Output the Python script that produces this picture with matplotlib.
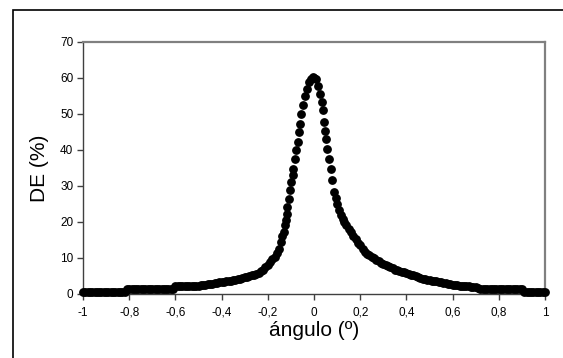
import matplotlib.pyplot as plt
from matplotlib.patches import Rectangle
from matplotlib.ticker import FuncFormatter

plt.rcParams['font.family'] = ['Liberation Sans', 'DejaVu Sans']

# ángulo (º) y eficiencia de difracción DE (%)
angulo = [
    -1.00, -0.99, -0.98, -0.97, -0.96, -0.95, -0.94, -0.93, -0.92, -0.91,
    -0.90, -0.89, -0.88, -0.87, -0.86, -0.85, -0.84, -0.83, -0.82,
    -0.81, -0.80, -0.79, -0.78, -0.77, -0.76, -0.75, -0.74, -0.73, -0.72,
    -0.71, -0.70, -0.69, -0.68, -0.67, -0.66, -0.65, -0.64, -0.63, -0.62, -0.61,
    -0.60, -0.59, -0.58, -0.57, -0.56, -0.55, -0.54, -0.53, -0.52, -0.51,
    -0.50, -0.49, -0.48, -0.47, -0.46, -0.45, -0.44, -0.43, -0.42, -0.41,
    -0.40, -0.39, -0.38, -0.37, -0.36, -0.35, -0.34, -0.33, -0.32, -0.31,
    -0.30, -0.29, -0.28, -0.27, -0.26, -0.25, -0.24, -0.23, -0.22, -0.21,
    -0.20, -0.19, -0.18, -0.17, -0.16, -0.15,
    -0.143, -0.137, -0.132, -0.127, -0.122, -0.118, -0.115, -0.108, -0.104,
    -0.099, -0.093, -0.090, -0.083, -0.080, -0.071, -0.064, -0.060, -0.055,
    -0.047, -0.040, -0.030, -0.020, -0.012, -0.006, 0.000,
    0.009, 0.019, 0.027, 0.033, 0.039, 0.044, 0.049, 0.053, 0.058, 0.064,
    0.072, 0.080, 0.088, 0.094, 0.100, 0.108, 0.116, 0.124, 0.132, 0.140,
    0.15, 0.16, 0.17, 0.18, 0.19, 0.20, 0.21, 0.22, 0.23, 0.24,
    0.25, 0.26, 0.27, 0.28, 0.29, 0.30, 0.31, 0.32, 0.33, 0.34,
    0.35, 0.36, 0.37, 0.38, 0.39, 0.40, 0.41, 0.42, 0.43, 0.44,
    0.45, 0.46, 0.47, 0.48, 0.49, 0.50, 0.51, 0.52, 0.53, 0.54,
    0.55, 0.56, 0.57, 0.58, 0.59, 0.60, 0.61, 0.62, 0.63, 0.64,
    0.65, 0.66, 0.67, 0.68, 0.69, 0.70, 0.71, 0.72, 0.73, 0.74,
    0.75, 0.76, 0.77, 0.78, 0.79, 0.80, 0.81, 0.82, 0.83, 0.84,
    0.85, 0.86, 0.87, 0.88, 0.89, 0.90, 0.91, 0.92, 0.93, 0.94,
    0.95, 0.96, 0.97, 0.98, 0.99, 1.00,
]

de = [
    0.6, 0.6, 0.6, 0.6, 0.6, 0.6, 0.6, 0.6, 0.6, 0.6,
    0.6, 0.6, 0.6, 0.6, 0.6, 0.6, 0.6, 0.6, 0.6,
    1.3, 1.3, 1.3, 1.3, 1.3, 1.3, 1.3, 1.3, 1.3, 1.3,
    1.3, 1.3, 1.3, 1.3, 1.3, 1.3, 1.3, 1.3, 1.3, 1.3, 1.3,
    2.2, 2.2, 2.2, 2.2, 2.2, 2.2, 2.2, 2.2, 2.2, 2.2,
    2.3, 2.4, 2.5, 2.6, 2.7, 2.8, 2.9, 3.0, 3.1, 3.2,
    3.3, 3.4, 3.5, 3.6, 3.7, 3.8, 4.0, 4.1, 4.3, 4.4,
    4.6, 4.8, 5.0, 5.2, 5.4, 5.6, 5.9, 6.3, 6.8, 7.4,
    8.0, 8.8, 9.6, 10.4, 11.3, 12.6,
    14.5, 16.0, 17.3, 19.1, 20.6, 22.1, 24.2, 26.5, 28.8,
    31.1, 33.0, 34.8, 37.6, 39.9, 42.2, 45.0, 47.3, 50.0,
    52.4, 55.1, 57.0, 58.8, 59.8, 60.2, 60.0,
    59.7, 57.7, 55.6, 53.3, 51.0, 47.7, 45.4, 43.1, 40.4, 37.6,
    34.8, 31.6, 28.3, 26.6, 25.1, 23.4, 21.9, 20.9, 20.0, 19.1,
    18.1, 17.1, 16.1, 15.2, 14.3, 13.5, 12.6, 11.8, 11.1, 10.7,
    10.3, 9.9, 9.5, 9.1, 8.7, 8.3, 8.0, 7.7, 7.4, 7.1,
    6.8, 6.6, 6.4, 6.2, 6.0, 5.8, 5.6, 5.4, 5.2, 4.9,
    4.7, 4.5, 4.3, 4.2, 4.0, 3.9, 3.7, 3.6, 3.5, 3.3,
    3.2, 3.1, 3.0, 2.8, 2.7, 2.6, 2.5, 2.4, 2.3, 2.2,
    2.2, 2.1, 2.1, 2.0, 2.0, 1.9, 1.8, 1.3, 1.3, 1.3,
    1.3, 1.3, 1.3, 1.3, 1.3, 1.3, 1.3, 1.3, 1.3, 1.3,
    1.3, 1.3, 1.3, 1.3, 1.3, 1.3, 0.6, 0.6, 0.6, 0.6,
    0.6, 0.6, 0.6, 0.6, 0.6, 0.6,
]

x_ticks = [-1, -0.8, -0.6, -0.4, -0.2, 0, 0.2, 0.4, 0.6, 0.8, 1]
y_ticks = [0, 10, 20, 30, 40, 50, 60, 70]


def coma(v, pos):
    v = round(v, 2)
    if v == 0:
        return "0"
    return f"{v:g}".replace(".", ",")


fig = plt.figure(figsize=(5.63, 3.58), dpi=100)

# marco exterior del gráfico (estilo Excel)
fig.patches.append(Rectangle((13 / 563, -0.1), 1.0, 1 - 10 / 358 + 0.1,
                             transform=fig.transFigure, fill=False,
                             edgecolor="black", linewidth=1.2))

ax = fig.add_axes([83 / 563, 1 - 294 / 358, 462 / 563, 252 / 358])

ax.plot(angulo, de, linestyle="none", marker="o", markersize=5.3,
        color="black", clip_on=False, zorder=3)

ax.set_xlim(-1, 1)
ax.set_ylim(0, 70)
ax.set_xticks(x_ticks)
ax.set_yticks(y_ticks)
ax.xaxis.set_major_formatter(FuncFormatter(coma))
ax.tick_params(axis="both", direction="out", length=4, width=1,
               labelsize=8.5, color="#404040")
ax.tick_params(axis="x", pad=5)
ax.tick_params(axis="y", pad=3)

for side in ["left", "bottom"]:
    ax.spines[side].set_color("#404040")
    ax.spines[side].set_linewidth(1.0)
for side in ["top", "right"]:
    ax.spines[side].set_color("#808080")
    ax.spines[side].set_linewidth(1.6)

ax.set_xlabel("ángulo (º)", fontsize=15, labelpad=2)
ax.set_ylabel("DE (%)", fontsize=15, labelpad=8)

plt.savefig("out.png", dpi=100)
plt.close(fig)
